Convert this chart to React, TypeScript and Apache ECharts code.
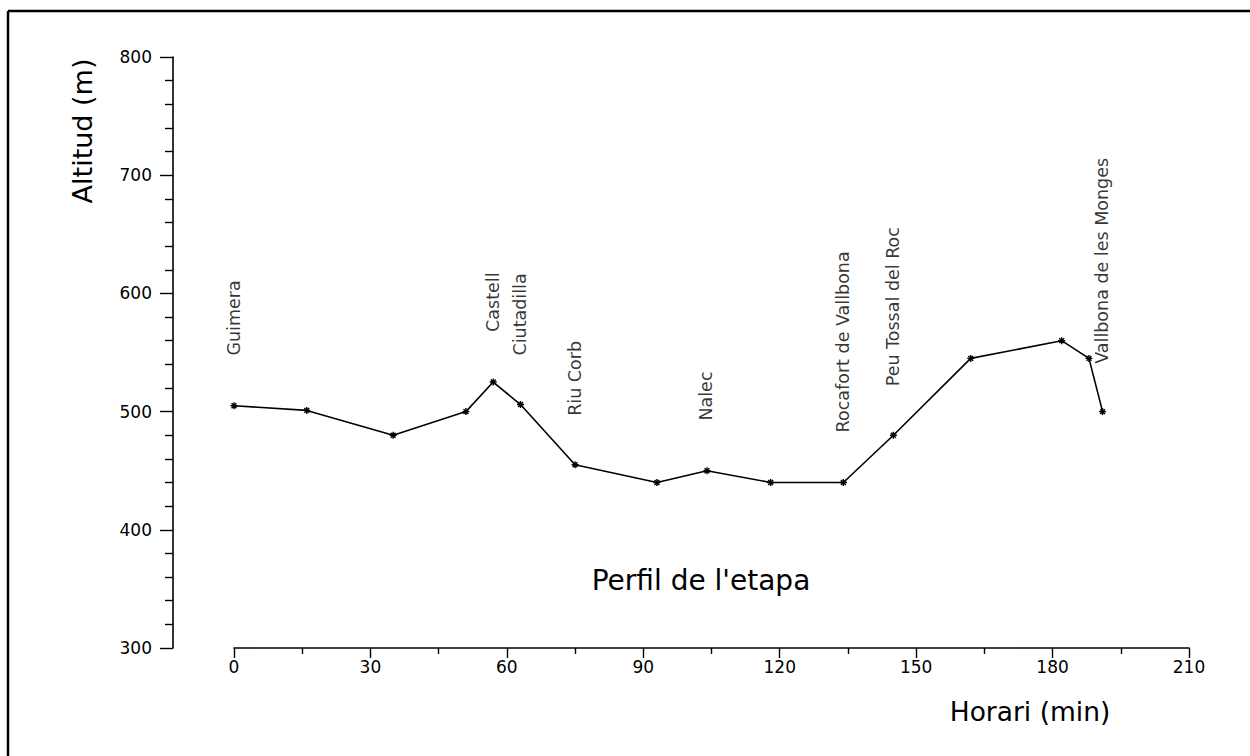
import React, { useEffect, useRef } from "react";
import * as echarts from "echarts";

// Profile points: time (min) and altitude (m)
const times = [0, 16, 35, 51, 57, 63, 75, 93, 104, 118, 134, 145, 162, 182, 188, 191];
const altitudes = [505, 501, 480, 500, 525, 506, 455, 440, 450, 440, 440, 480, 545, 560, 545, 500];

// Place names along the route
const placeNames = [
  "Guimera",
  "Castell",
  "Ciutadilla",
  "Riu Corb",
  "Nalec",
  "Rocafort de Vallbona",
  "Peu Tossal del Roc",
  "Vallbona de les Monges",
];
const placeTimes = [0, 57, 63, 75, 104, 134, 145, 191];
const placeLabelAlt = [547, 567, 547, 496, 492, 482, 521, 540];

const FONT = "DejaVu Sans";

export default function App() {
  const ref = useRef<HTMLDivElement>(null);

  useEffect(() => {
    document.body.style.margin = "0";
    if (!ref.current) return;
    const chart = echarts.init(ref.current, null, { renderer: "svg" });

    const lineData = times.map((t, i) => [t, altitudes[i]]);
    const labelData = placeTimes.map((t, i) => ({
      value: [t, placeLabelAlt[i]],
      name: placeNames[i],
    }));

    chart.setOption({
      animation: false,
      backgroundColor: "#fff",
      grid: { left: 234, right: 61, top: 57, bottom: 108 },
      xAxis: {
        type: "value",
        min: 0,
        max: 210,
        interval: 30,
        axisLine: { show: true, onZero: false, lineStyle: { color: "#000", width: 1.6 } },
        axisTick: { show: true, inside: false, length: 10, lineStyle: { color: "#000", width: 1.4 } },
        minorTick: { show: true, splitNumber: 2, length: 6, lineStyle: { color: "#000", width: 1.4 } },
        axisLabel: { color: "#000", fontFamily: FONT, fontSize: 17, margin: 10 },
        splitLine: { show: false },
      },
      yAxis: {
        type: "value",
        min: 300,
        max: 800,
        interval: 100,
        offset: 61,
        axisLine: { show: true, onZero: false, lineStyle: { color: "#000", width: 1.6 } },
        axisTick: { show: true, inside: false, length: 13, lineStyle: { color: "#000", width: 1.4 } },
        minorTick: { show: true, splitNumber: 5, length: 8, lineStyle: { color: "#000", width: 1.4 } },
        axisLabel: { color: "#000", fontFamily: FONT, fontSize: 17, margin: 21 },
        splitLine: { show: false },
      },
      series: [
        {
          type: "line",
          data: lineData,
          symbol: "path://M5,0L5,10M0,5L10,5M1.5,1.5L8.5,8.5M1.5,8.5L8.5,1.5",
          symbolSize: 7,
          showSymbol: true,
          itemStyle: { color: "none", borderColor: "#000", borderWidth: 1.4 },
          lineStyle: { color: "#000", width: 1.6 },
          silent: true,
          emphasis: { disabled: true },
        },
        {
          type: "scatter",
          data: labelData,
          symbolSize: 1,
          itemStyle: { color: "rgba(0,0,0,0)" },
          silent: true,
          emphasis: { disabled: true },
          label: {
            show: true,
            formatter: (p: any) => p.name,
            position: [0, 0],
            rotate: 90,
            align: "left",
            verticalAlign: "middle",
            color: "#000",
            fontFamily: FONT,
            fontSize: 17.5,
          },
        },
      ],
      graphic: [
        {
          type: "line",
          shape: { x1: 8, y1: 11, x2: 1260, y2: 11 },
          style: { stroke: "#000", lineWidth: 2.5 },
        },
        {
          type: "line",
          shape: { x1: 8, y1: 11, x2: 8, y2: 770 },
          style: { stroke: "#000", lineWidth: 2.5 },
        },
        {
          type: "text",
          x: 82,
          y: 131,
          rotation: Math.PI / 2,
          style: {
            text: "Altitud (m)",
            fontFamily: FONT,
            fontSize: 27,
            fill: "#000",
            textAlign: "center",
            textVerticalAlign: "middle",
          },
        },
        {
          type: "text",
          x: 1030,
          y: 711,
          style: {
            text: "Horari (min)",
            fontFamily: FONT,
            fontSize: 26.5,
            fill: "#000",
            textAlign: "center",
            textVerticalAlign: "middle",
          },
        },
        {
          type: "text",
          x: 701,
          y: 580,
          style: {
            text: "Perfil de l'etapa",
            fontFamily: FONT,
            fontSize: 28,
            fill: "#000",
            textAlign: "center",
            textVerticalAlign: "middle",
          },
        },
      ],
    });

    return () => chart.dispose();
  }, []);

  return <div ref={ref} style={{ width: 1250, height: 756 }} />;
}
